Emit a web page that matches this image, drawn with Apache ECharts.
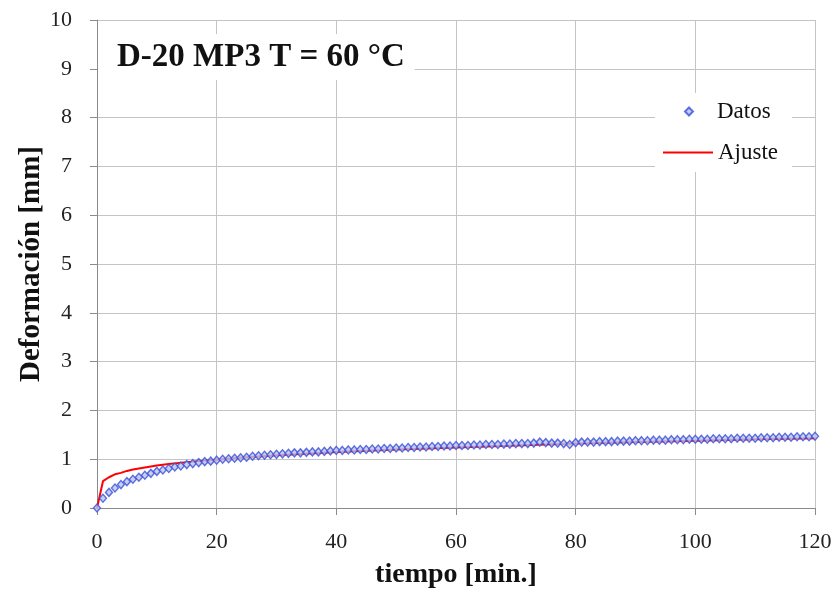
<!DOCTYPE html>
<html>
<head>
<meta charset="utf-8">
<script src="https://cdn.jsdelivr.net/npm/echarts@6/dist/echarts.min.js"></script>
<style>
html,body{margin:0;padding:0;background:#fff;}
#chart{width:834px;height:592px;}
</style>
</head>
<body>
<div id="chart"></div>
<script>
// Measured data (Datos): time [min.] and deformation [mm]
var timeMin = [0,1,2,3,4,5,6,7,8,9,10,11,12,13,14,15,16,17,18,19,20,
  21,22,23,24,25,26,27,28,29,30,31,32,33,34,35,36,37,38,39,40,
  41,42,43,44,45,46,47,48,49,50,51,52,53,54,55,56,57,58,59,60,
  61,62,63,64,65,66,67,68,69,70,71,72,73,74,75,76,77,78,79,80,
  81,82,83,84,85,86,87,88,89,90,91,92,93,94,95,96,97,98,99,100,
  101,102,103,104,105,106,107,108,109,110,111,112,113,114,115,116,117,118,119,120];
var deformation = [0,0.20,0.32,0.41,0.48,0.54,0.59,0.63,0.67,0.71,0.75,0.78,0.81,0.84,0.86,0.89,0.91,0.93,0.95,0.96,0.98,
  1.00,1.01,1.02,1.03,1.04,1.06,1.07,1.08,1.09,1.10,1.11,1.12,1.13,1.13,1.14,1.15,1.15,1.16,1.17,1.18,
  1.18,1.19,1.19,1.20,1.20,1.21,1.21,1.22,1.22,1.23,1.23,1.24,1.24,1.25,1.25,1.26,1.26,1.27,1.27,1.28,
  1.28,1.28,1.29,1.29,1.30,1.30,1.30,1.31,1.31,1.32,1.32,1.32,1.33,1.35,1.34,1.33,1.33,1.32,1.30,1.34,
  1.35,1.35,1.35,1.36,1.36,1.36,1.37,1.37,1.37,1.38,1.38,1.38,1.39,1.39,1.39,1.40,1.40,1.40,1.41,1.41,
  1.41,1.41,1.42,1.42,1.42,1.42,1.43,1.43,1.43,1.43,1.44,1.44,1.44,1.45,1.45,1.45,1.46,1.46,1.46,1.47];
// Fitted curve (Ajuste)
var fitTime = [0,1,2,3,4,5,6,8,10,12,15,20,25,30,40,50,60,70,80,90,100,110,120];
var fitValue = [0,0.55,0.63,0.69,0.72,0.76,0.79,0.83,0.87,0.90,0.94,0.99,1.04,1.08,1.15,1.20,1.24,1.28,1.32,1.35,1.38,1.41,1.43];
// Axis ticks
var xTicks = [0,20,40,60,80,100,120];
var yTicks = [0,1,2,3,4,5,6,7,8,9,10];
var chartTitle = 'D-20 MP3 T = 60 °C';

var serif = "'Liberation Serif','Times New Roman',serif";
var dataPts = timeMin.map(function(t,i){return [t, deformation[i]];});
var fitPts = fitTime.map(function(t,i){return [t, fitValue[i]];});

var chart = echarts.init(document.getElementById('chart'));
chart.setOption({
  backgroundColor:'#fff',
  animation:false,
  grid:{left:97,right:19,top:20,bottom:84,containLabel:false,outerBoundsMode:'none'},
  title:{
    text:chartTitle, left:98, top:34,
    backgroundColor:'#fff',
    padding:[7,10,6,19],
    textStyle:{fontFamily:serif,fontWeight:'bold',fontSize:33,color:'#111'}
  },
  graphic:[{type:'rect',z:1,shape:{x:655,y:93,width:137,height:79},style:{fill:'#fff'}}],
  legend:[
    {data:[{name:'Datos',icon:'diamond'}],left:684,top:100,padding:0,itemWidth:8,itemHeight:8,
     textStyle:{fontFamily:serif,fontSize:23,color:'#111',padding:[0,0,0,19]}},
    {data:[{name:'Ajuste',icon:'rect'}],left:663,top:141,padding:0,itemWidth:50,itemHeight:2,
     textStyle:{fontFamily:serif,fontSize:23,color:'#111'}}
  ],
  xAxis:{
    type:'value',min:xTicks[0],max:xTicks[xTicks.length-1],interval:xTicks[1]-xTicks[0],
    name:'tiempo [min.]',nameLocation:'middle',nameGap:53,nameMoveOverlap:false,
    nameTextStyle:{fontFamily:serif,fontWeight:'bold',fontSize:28,color:'#111'},
    axisLine:{show:true,lineStyle:{color:'#8a8a8a',width:1}},
    axisTick:{show:true,length:7,lineStyle:{color:'#8a8a8a'}},
    axisLabel:{margin:23,fontFamily:serif,fontSize:22,color:'#222'},
    splitLine:{show:true,lineStyle:{color:'#c4c4c4',width:1}}
  },
  yAxis:{
    type:'value',min:yTicks[0],max:yTicks[yTicks.length-1],interval:yTicks[1]-yTicks[0],
    name:'Deformación [mm]',nameLocation:'middle',nameGap:51,nameMoveOverlap:false,
    nameTextStyle:{fontFamily:serif,fontWeight:'bold',fontSize:29,color:'#111'},
    axisLine:{show:true,lineStyle:{color:'#8a8a8a',width:1}},
    axisTick:{show:true,length:7,lineStyle:{color:'#8a8a8a'}},
    axisLabel:{margin:25,fontFamily:serif,fontSize:22,color:'#222'},
    splitLine:{show:true,lineStyle:{color:'#c4c4c4',width:1}}
  },
  series:[
    {name:'Datos',type:'scatter',data:dataPts,symbol:'diamond',symbolSize:[7,8],z:3,
     itemStyle:{color:'#b9c3ee',borderColor:'#3b4fd8',borderWidth:1.4}},
    {name:'Ajuste',type:'line',data:fitPts,showSymbol:false,symbol:'none',z:2,
     lineStyle:{color:'#ff0000',width:2},itemStyle:{color:'#ff0000'}}
  ]
});
</script>
</body>
</html>
